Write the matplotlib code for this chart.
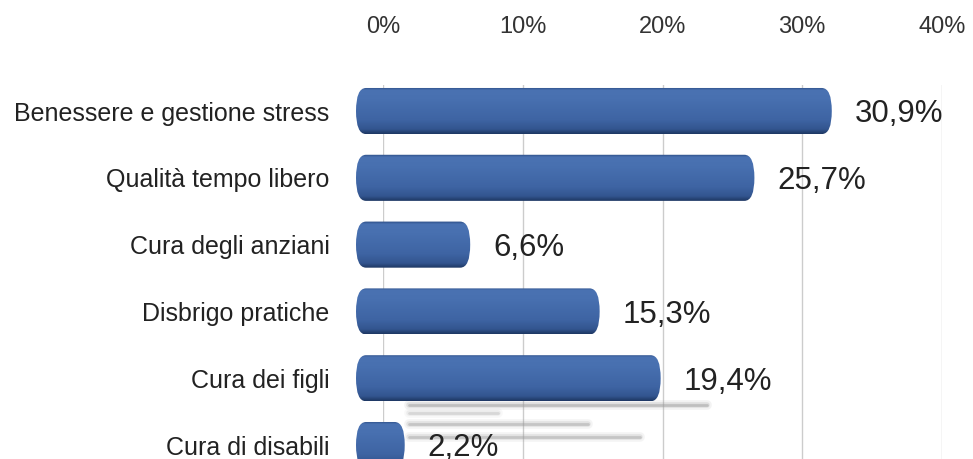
import matplotlib.pyplot as plt
import matplotlib.patches as mpatches
import matplotlib.colors as mcolors
import numpy as np

categorie = ['Benessere e gestione stress', 'Qualità tempo libero', 'Cura degli anziani',
             'Disbrigo pratiche', 'Cura dei figli', 'Cura di disabili']
valori = [30.9, 25.7, 6.6, 15.3, 19.4, 2.2]
etichette = ['30,9%', '25,7%', '6,6%', '15,3%', '19,4%', '2,2%']
tick_vals = [0, 10, 20, 30, 40]
tick_labels = ['0%', '10%', '20%', '30%', '40%']

plt.rcParams['font.family'] = ['Liberation Sans', 'DejaVu Sans']

W, H = 973, 459
fig = plt.figure(figsize=(W / 100, H / 100), dpi=100)


def px(x0, y0, x1, y1):
    # box in pixels (origin top-left) -> figure fraction
    return [x0 / W, 1 - y1 / H, (x1 - x0) / W, (y1 - y0) / H]


# parete di fondo: griglia e etichette in alto
ax_bg = fig.add_axes(px(383, 85, 942, 459))
ax_bg.set_xlim(0, 40)
ax_bg.set_ylim(0, 1)
ax_bg.set_xticks(tick_vals, tick_labels)
ax_bg.xaxis.tick_top()
ax_bg.tick_params(axis='x', length=0, pad=34, labelsize=17, colors='#333333')
ax_bg.set_yticks([])
ax_bg.grid(axis='x', color='#cccccc', lw=1)
for s in ax_bg.spines.values():
    s.set_visible(False)

# barre in primo piano
ax = fig.add_axes(px(356, 0, 956, 459))
ax.patch.set_alpha(0)
cap = 1.075
xlim = (-cap, -cap + 600 / 14.88)
ylim = (5.209, -1.662)
y = np.arange(len(categorie))
bars = ax.barh(y, valori, height=0.69, color='none')

cmap = mcolors.LinearSegmentedColormap.from_list(
    'barra', [(0, '#2b4c84'), (0.06, '#4a72b2'), (0.25, '#4870b0'),
              (0.7, '#3e64a3'), (0.9, '#33558f'), (1, '#1e3864')])
grad = np.linspace(0, 1, 100).reshape(-1, 1)

for b in bars:
    x0, y0, w, h = b.get_x(), b.get_y(), b.get_width(), b.get_height()
    shape = mpatches.FancyBboxPatch(
        (x0 - cap, y0), w + cap, h,
        boxstyle='round,pad=0,rounding_size=0.67', mutation_aspect=0.515,
        facecolor='none', edgecolor='none')
    ax.add_patch(shape)
    im = ax.imshow(grad, cmap=cmap, aspect='auto',
                   extent=(x0 - cap, x0 + w, y0 + h, y0), zorder=2)
    im.set_clip_path(shape)

# riflessi grigi sotto le ultime barre
b = bars[4]
yb = b.get_y() + b.get_height()
for dy, x1, a in [(0.06, 22.5, 0.45), (0.18, 8.5, 0.25), (0.34, 14.5, 0.4), (0.53, 18.0, 0.4)]:
    for lw, k in [(7, 0.25), (4, 0.5), (2, 1.0)]:
        ax.plot([2.5, x1], [yb + dy] * 2, color='#9a9a9a', lw=lw, alpha=a * k,
                solid_capstyle='round', zorder=1)

for i, (v, t) in enumerate(zip(valori, etichette)):
    ax.text(v + 1.55, i + 0.05, t, va='center', ha='left', fontsize=22.5,
            color='#222222', zorder=3)

ax.set_xlim(*xlim)
ax.set_ylim(*ylim)
ax.set_yticks(y, categorie)
ax.tick_params(axis='y', length=0, pad=19, labelsize=18, labelcolor='#222222')
ax.set_xticks([])
for s in ax.spines.values():
    s.set_visible(False)

fig.savefig('out.png', dpi=100)
